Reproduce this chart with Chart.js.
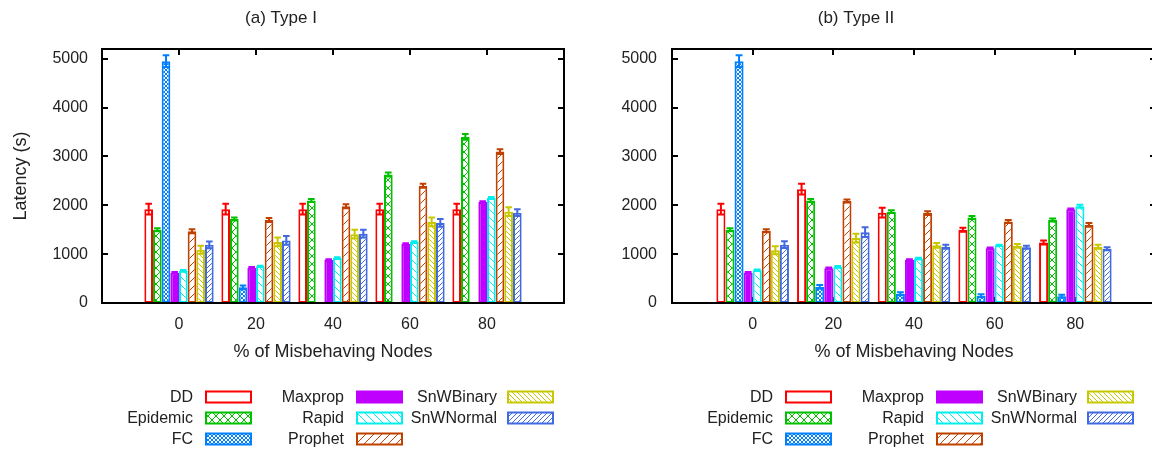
<!DOCTYPE html>
<html>
<head>
<meta charset="utf-8">
<script src="https://cdn.jsdelivr.net/npm/chart.js@4.4.0/dist/chart.umd.min.js"></script>
<style>
  html, body { margin: 0; padding: 0; background: #fff; overflow: hidden; }
  #wrap { position: relative; width: 1152px; height: 450px; overflow: hidden; }
  #chartA { position: absolute; left: 0; top: 0; }
  #chartB { position: absolute; left: 576px; top: 0; }
</style>
</head>
<body>
<div id="wrap">
  <canvas id="chartA" width="576" height="450"></canvas>
  <canvas id="chartB" width="592" height="450"></canvas>
</div>
<script>
// categories on the x axis (% of misbehaving nodes)
const categories = ['0', '20', '40', '60', '80'];
const seriesNames = ['DD', 'Epidemic', 'FC', 'Maxprop', 'Rapid', 'Prophet', 'SnWBinary', 'SnWNormal'];
const yTicks = [0, 1000, 2000, 3000, 4000, 5000];

// (a) Type I - latency (s), one row per series (same order as seriesNames)
const typeI = [
  [1920, 1920, 1920, 1920, 1920],   // DD
  [1500, 1720, 2100, 2630, 3400],   // Epidemic
  [4950, 320, 0, 0, 0],             // FC
  [620, 720, 880, 1210, 2070],      // Maxprop
  [660, 750, 920, 1250, 2150],      // Rapid
  [1470, 1700, 1980, 2400, 3100],   // Prophet
  [1090, 1250, 1410, 1660, 1870],   // SnWBinary
  [1190, 1280, 1420, 1640, 1850]    // SnWNormal
];
const typeIErr = [
  [110, 110, 110, 110, 110],
  [30, 30, 30, 40, 60],
  [120, 40, 0, 0, 0],
  [15, 15, 15, 15, 15],
  [15, 15, 15, 15, 20],
  [40, 40, 40, 40, 50],
  [80, 90, 90, 90, 90],
  [70, 90, 80, 80, 70]
];

// (b) Type II
const typeII = [
  [1920, 2330, 1850, 1500, 1240],   // DD
  [1500, 2100, 1870, 1750, 1700],   // Epidemic
  [4950, 330, 190, 150, 140],       // FC
  [620, 710, 880, 1120, 1920],      // Maxprop
  [670, 740, 910, 1180, 1980],      // Rapid
  [1480, 2090, 1840, 1670, 1600],   // Prophet
  [1080, 1330, 1180, 1170, 1150],   // SnWBinary
  [1195, 1450, 1150, 1140, 1110]    // SnWNormal
];
const typeIIErr = [
  [110, 110, 100, 40, 40],
  [30, 30, 30, 30, 30],
  [120, 40, 30, 30, 30],
  [15, 15, 15, 15, 15],
  [15, 15, 15, 15, 30],
  [30, 30, 40, 30, 40],
  [80, 90, 50, 40, 40],
  [70, 100, 40, 30, 30]
];

// gnuplot-like colours and fill styles
const colors = ['#ff0000', '#00c000', '#0080ff', '#c000ff', '#00eeee', '#c04000', '#c8c800', '#4169e1'];
const fillKinds = ['empty', 'cross', 'densecross', 'solid', 'bslash', 'slash', 'densebslash', 'denseslash'];

const FONT = "'Liberation Sans', Arial, sans-serif";
const TXT = '#222';
Chart.defaults.font.family = FONT;

function makeFill(color, kind) {
  if (kind === 'empty') return '#ffffff';
  if (kind === 'solid') return color;
  const s = kind === 'densecross' ? 4 : (kind.startsWith('dense') ? 5 : 8);
  const c = document.createElement('canvas');
  c.width = s; c.height = s;
  const g = c.getContext('2d');
  g.fillStyle = '#fff';
  g.fillRect(0, 0, s, s);
  g.strokeStyle = color;
  g.lineWidth = 1;
  const slash = () => {
    g.beginPath();
    g.moveTo(0, s); g.lineTo(s, 0);
    g.moveTo(-1, 1); g.lineTo(1, -1);
    g.moveTo(s - 1, s + 1); g.lineTo(s + 1, s - 1);
    g.stroke();
  };
  const bslash = () => {
    g.beginPath();
    g.moveTo(0, 0); g.lineTo(s, s);
    g.moveTo(-1, s - 1); g.lineTo(1, s + 1);
    g.moveTo(s - 1, -1); g.lineTo(s + 1, 1);
    g.stroke();
  };
  if (kind.includes('cross')) { slash(); bslash(); }
  else if (kind.includes('bslash')) bslash();
  else slash();
  return g.createPattern(c, 'repeat');
}

function buildChart(id, values, errs, cfg) {
  const ctx = document.getElementById(id).getContext('2d');
  const fills = colors.map((c, i) => makeFill(c, fillKinds[i]));

  const datasets = seriesNames.map((name, s) => ({
    label: name,
    data: [null, ...values[s], null],
    errors: [null, ...errs[s], null],
    backgroundColor: fills[s],
    borderColor: colors[s],
    borderWidth: 2,
    borderSkipped: false,
    categoryPercentage: 0.9,
    barPercentage: 1.0
  }));

  // frame, inner ticks, error bars, title and gnuplot style key
  const decor = {
    id: 'decor',
    beforeDatasetsDraw(chart) {
      const { ctx, chartArea: a, scales } = chart;
      ctx.save();
      ctx.strokeStyle = '#000';
      ctx.lineWidth = 2;
      ctx.beginPath();
      yTicks.forEach(v => {
        const y = Math.round(scales.y.getPixelForValue(v));
        ctx.moveTo(a.left, y); ctx.lineTo(a.left + 6, y);
        ctx.moveTo(a.right, y); ctx.lineTo(a.right - 6, y);
      });
      categories.forEach((c, i) => {
        const x = Math.round(scales.x.getPixelForValue(i + 1));
        ctx.moveTo(x, a.top); ctx.lineTo(x, a.top + 6);
        ctx.moveTo(x, a.bottom); ctx.lineTo(x, a.bottom - 6);
      });
      ctx.stroke();
      ctx.restore();
    },
    afterDatasetsDraw(chart) {
      const { ctx, scales } = chart;
      ctx.save();
      ctx.lineWidth = 2;
      chart.data.datasets.forEach((ds, d) => {
        const meta = chart.getDatasetMeta(d);
        meta.data.forEach((el, i) => {
          const v = ds.data[i], e = ds.errors[i];
          if (v == null || !e || v <= 0) return;
          const y1 = scales.y.getPixelForValue(v + e);
          const y0 = scales.y.getPixelForValue(Math.max(0, v - e));
          const hw = el.width * 0.38;
          ctx.strokeStyle = ds.borderColor;
          ctx.beginPath();
          ctx.moveTo(el.x, y0); ctx.lineTo(el.x, y1);
          ctx.moveTo(el.x - hw, y1); ctx.lineTo(el.x + hw, y1);
          ctx.moveTo(el.x - hw, y0); ctx.lineTo(el.x + hw, y0);
          ctx.stroke();
        });
      });
      ctx.restore();
    },
    afterDraw(chart) {
      const { ctx, chartArea: a } = chart;
      ctx.save();
      ctx.strokeStyle = '#000';
      ctx.lineWidth = 2;
      ctx.strokeRect(a.left, a.top, a.right - a.left, a.bottom - a.top);

      ctx.fillStyle = TXT;
      ctx.font = '17px ' + FONT;
      ctx.textAlign = 'center';
      ctx.textBaseline = 'middle';
      ctx.fillText(cfg.title, cfg.titleX, 18);

      // key: three columns, label right-aligned before the sample box
      ctx.font = '16px ' + FONT;
      const cols = [[0, 1, 2], [3, 4, 5], [6, 7]];
      const rows = [397, 418, 439];
      cols.forEach((col, ci) => {
        col.forEach((s, ri) => {
          const y = rows[ri];
          ctx.fillStyle = TXT;
          ctx.textAlign = 'right';
          ctx.fillText(seriesNames[s], cfg.keyText[ci], y + 1);
          const bx = cfg.keyBox[ci];
          ctx.fillStyle = fills[s];
          ctx.fillRect(bx, y - 5.5, 45, 11);
          ctx.strokeStyle = colors[s];
          ctx.lineWidth = 2;
          ctx.strokeRect(bx, y - 5.5, 45, 11);
        });
      });
      ctx.restore();
    }
  };

  return new Chart(ctx, {
    type: 'bar',
    data: { labels: ['', ...categories, ''], datasets },
    options: {
      responsive: false,
      animation: false,
      events: [],
      layout: { padding: { left: 0, right: cfg.padRight, top: 49, bottom: 87 } },
      plugins: { legend: { display: false }, tooltip: { enabled: false } },
      scales: {
        x: {
          offset: false,
          grid: { display: false, drawTicks: false },
          border: { display: false },
          ticks: { color: TXT, font: { size: 16 }, padding: 12, maxRotation: 0, autoSkip: false },
          title: { display: true, text: '% of Misbehaving Nodes', color: TXT, font: { size: 18 }, padding: { top: 0, bottom: 0 } },
          afterFit: s => { s.height = 60; }
        },
        y: {
          min: 0,
          max: 5200,
          afterBuildTicks: s => { s.ticks = yTicks.map(v => ({ value: v })); },
          grid: { display: false, drawTicks: false },
          border: { display: false },
          ticks: { color: TXT, font: { size: 16 }, padding: cfg.yPad, callback: v => String(v) },
          title: { display: cfg.yTitle, text: 'Latency (s)', color: TXT, font: { size: 18 }, padding: { top: 10, bottom: 0 } },
          afterFit: s => { s.width = cfg.yWidth; }
        }
      }
    },
    plugins: [decor]
  });
}

buildChart('chartA', typeI, typeIErr, {
  title: '(a) Type I', titleX: 281, yTitle: true, yWidth: 102, yPad: 14, padRight: 9,
  keyText: [193, 344, 497], keyBox: [206, 357, 508]
});

buildChart('chartB', typeII, typeIIErr, {
  title: '(b) Type II', titleX: 280, yTitle: false, yWidth: 96, yPad: 15, padRight: 10,
  keyText: [197, 348, 501], keyBox: [210, 361, 512]
});
</script>
</body>
</html>
